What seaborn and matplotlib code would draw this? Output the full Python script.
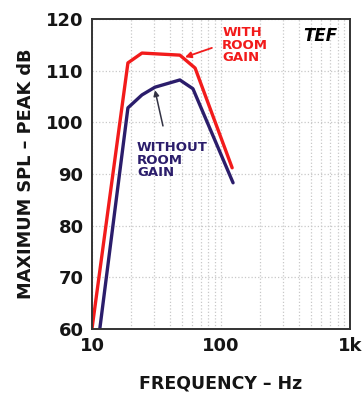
import numpy as np
import pandas as pd
import matplotlib
matplotlib.use("Agg")
import matplotlib.pyplot as plt
import seaborn as sns
from matplotlib.ticker import FixedLocator, LogLocator, NullFormatter

# Data
freq_with = [10, 19, 24.4, 48, 63, 122]
spl_with = [60, 111.5, 113.4, 113.0, 110.5, 91.2]
freq_without = [11.5, 19, 24.4, 30.8, 48, 60.6, 124]
spl_without = [60, 102.8, 105.3, 106.8, 108.2, 106.5, 88.3]
series_names = ["WITH ROOM GAIN", "WITHOUT ROOM GAIN"]
x_ticks = [10, 100, 1000]
x_tick_labels = ["10", "100", "1k"]
y_ticks = [60, 70, 80, 90, 100, 110, 120]

df = pd.concat([
    pd.DataFrame({"freq": freq_with, "spl": spl_with, "series": series_names[0]}),
    pd.DataFrame({"freq": freq_without, "spl": spl_without, "series": series_names[1]}),
])

sns.set_style("white")
plt.rcParams['font.family'] = ['DejaVu Sans']
plt.rcParams['text.color'] = '#151515'
plt.rcParams['axes.labelcolor'] = '#151515'
plt.rcParams['xtick.color'] = '#151515'
plt.rcParams['ytick.color'] = '#151515'

fig = plt.figure(figsize=(3.62, 3.95), dpi=100)
ax = fig.add_axes([0.254, 0.167, 0.713, 0.785])

red = "#f21b1b"
navy = "#2b1d6b"
sns.lineplot(data=df, x="freq", y="spl", hue="series", sort=False,
             palette={series_names[0]: red, series_names[1]: navy},
             linewidth=2.4, legend=False, ax=ax, estimator=None)

ax.set_xscale("log")
ax.set_xlim(10, 1000)
ax.set_ylim(60, 120)
ax.xaxis.set_major_locator(FixedLocator(x_ticks))
ax.set_xticklabels(x_tick_labels)
ax.xaxis.set_minor_locator(LogLocator(base=10, subs=np.arange(2, 10)))
ax.xaxis.set_minor_formatter(NullFormatter())
ax.set_yticks(y_ticks)
ax.grid(True, which="both", axis="x", color="#c8c8c8", linestyle=":", linewidth=0.9)
ax.grid(True, which="major", axis="y", color="#c8c8c8", linestyle=":", linewidth=0.9)

for s in ax.spines.values():
    s.set_color("#333333")
    s.set_linewidth(1.4)

ax.tick_params(axis="both", which="both", length=0, labelsize=13, pad=6)
for lab in ax.get_xticklabels() + ax.get_yticklabels():
    lab.set_fontweight("bold")

ax.set_xlabel("FREQUENCY – Hz", fontsize=12.5, fontweight="bold", labelpad=14)
ax.set_ylabel("MAXIMUM SPL – PEAK dB", fontsize=12.8, fontweight="bold", labelpad=8)

ax.text(0.95, 0.975, "TEF", transform=ax.transAxes, ha="right", va="top",
        fontsize=12, fontweight="bold", fontstyle="italic", color="black")

ax.text(102, 118.6, "WITH\nROOM\nGAIN", ha="left", va="top", fontsize=9.5,
        fontweight="bold", color=red, linespacing=0.95)
ax.annotate("", xy=(52.6, 112.6), xytext=(85, 114.4),
            arrowprops=dict(arrowstyle="-|>", color=red, lw=1.3, mutation_scale=9,
                            shrinkA=0, shrinkB=0))
ax.text(22.3, 96.3, "WITHOUT\nROOM\nGAIN", ha="left", va="top", fontsize=9.5,
        fontweight="bold", color=navy, linespacing=0.95)
ax.annotate("", xy=(30.8, 106.2), xytext=(35.5, 99.3),
            arrowprops=dict(arrowstyle="-|>", color="#333344", lw=1.1, mutation_scale=8,
                            shrinkA=0, shrinkB=0))

fig.savefig("out.png", dpi=100)
